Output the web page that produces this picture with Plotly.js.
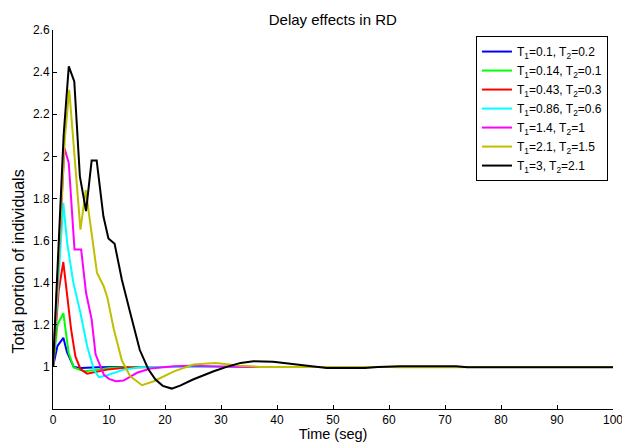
<!DOCTYPE html>
<html>
<head>
<meta charset="utf-8">
<script src="https://cdn.plot.ly/plotly-3.0.1.min.js"></script>
<style>html,body{margin:0;padding:0;background:#fff;}#plot{width:622px;height:442px;}</style>
</head>
<body>
<div id="plot"></div>
<script>
// Series names
const names = [
  "T<sub>1</sub>=0.1, T<sub>2</sub>=0.2",
  "T<sub>1</sub>=0.14, T<sub>2</sub>=0.1",
  "T<sub>1</sub>=0.43, T<sub>2</sub>=0.3",
  "T<sub>1</sub>=0.86, T<sub>2</sub>=0.6",
  "T<sub>1</sub>=1.4, T<sub>2</sub>=1",
  "T<sub>1</sub>=2.1, T<sub>2</sub>=1.5",
  "T<sub>1</sub>=3, T<sub>2</sub>=2.1"
];
const colors = ["#0000ff", "#00ff00", "#ff0000", "#00ffff", "#ff00ff", "#bfbf00", "#000000"];

// Time samples and values
const tBlue = [0, 0.8, 1.85, 2.5, 3.7, 5, 8, 12, 100];
const vBlue = [1, 1.1, 1.138, 1.07, 1.0, 0.995, 0.998, 1.0, 1.0];

const tGreen = [0, 0.8, 1.85, 2.8, 3.7, 5.5, 7.3, 10, 14, 100];
const vGreen = [1, 1.2, 1.255, 1.066, 0.997, 0.979, 0.984, 0.995, 1.0, 1.0];

const tRed = [0, 1, 1.84, 2.23, 3.24, 4, 4.9, 6.1, 7.9, 9.7, 13.3, 18, 100];
const vRed = [1, 1.36, 1.498, 1.415, 1.177, 1.05, 0.99, 0.968, 0.978, 0.987, 0.997, 1.0, 1.0];

const tCyan = [0, 1, 1.84, 2.53, 3.6, 4.9, 6.1, 7.3, 8.2, 9.7, 12.6, 15.6, 20, 100];
const vCyan = [1, 1.45, 1.779, 1.589, 1.405, 1.256, 1.098, 0.987, 0.951, 0.96, 0.987, 0.998, 1.0, 1.0];

const tMagenta = [0, 1, 2.05, 2.82, 3.84, 5.03, 5.9, 6.9, 7.6, 9.1, 10, 11.2, 12.6, 15, 17.4, 21.6, 24.6, 30, 35, 100];
const vMagenta = [1, 1.5, 2.04, 1.968, 1.557, 1.557, 1.352, 1.226, 1.06, 0.962, 0.943, 0.932, 0.935, 0.972, 0.992, 1.003, 1.006, 1.002, 1.0, 1.0];

const tYellow = [0, 1, 2.1, 2.9, 4.9, 5.85, 7.85, 9.05, 9.7, 10.85, 12.3, 13.8, 15.9, 18, 21.6, 25.1, 29, 33.5, 37, 60, 62, 73, 74, 100];
const vYellow = [1, 1.5, 2.08, 2.316, 1.652, 1.84, 1.447, 1.383, 1.33, 1.18, 1.03, 0.955, 0.913, 0.932, 0.979, 1.011, 1.019, 1.006, 1.0, 1.0, 0.998, 0.998, 1.0, 1.0];

const tBlack = [0, 1, 1.9, 2.82, 3.8, 4.8, 5.9, 6.9, 7.8, 9, 9.9, 11, 12.3, 13.8, 14.7, 15.5, 17, 18.3, 19.6, 21.2, 22.7, 25, 28.7, 31, 33.5, 35.8, 39.3, 42.4, 46.5, 48.9, 55.7, 58, 62, 72, 74, 100];
const vBlack = [1, 1.55, 2.1, 2.427, 2.356, 1.905, 1.74, 1.98, 1.98, 1.715, 1.61, 1.585, 1.414, 1.256, 1.16, 1.08, 0.99, 0.94, 0.91, 0.897, 0.911, 0.94, 0.979, 1.0, 1.019, 1.027, 1.024, 1.014, 1.0, 0.995, 0.995, 1.0, 1.003, 1.003, 0.998, 0.998];

const xTicks = [0, 10, 20, 30, 40, 50, 60, 70, 80, 90, 100];
const yTicks = [1, 1.2, 1.4, 1.6, 1.8, 2, 2.2, 2.4, 2.6];
const yTickLabels = ["1", "1.2", "1.4", "1.6", "1.8", "2", "2.2", "2.4", "2.6"];

const xs = [tBlue, tGreen, tRed, tCyan, tMagenta, tYellow, tBlack];
const ys = [vBlue, vGreen, vRed, vCyan, vMagenta, vYellow, vBlack];

const traces = xs.map((x, i) => ({
  x: x, y: ys[i], type: "scatter", mode: "lines", name: names[i],
  line: {color: colors[i], width: 2}
}));

const fontFam = "Liberation Sans, Arial, Helvetica, sans-serif";

const layout = {
  width: 622, height: 442,
  margin: {l: 53, r: 9, t: 30, b: 33, pad: 0},
  paper_bgcolor: "#ffffff", plot_bgcolor: "#ffffff",
  font: {family: fontFam, size: 12, color: "#000"},
  title: {text: "Delay effects in RD", font: {size: 15, family: fontFam, color: "#000"}, x: 0.535, xanchor: "center", y: 0.955, yanchor: "middle"},
  xaxis: {
    range: [0, 100], tickvals: xTicks, ticktext: xTicks.map(String),
    showgrid: false, zeroline: false, showline: true, linecolor: "#000", linewidth: 1,
    ticks: "inside", ticklen: 4, tickcolor: "#000", tickfont: {size: 12},
    ticklabeloverflow: "allow",
    title: {text: "Time (seg)", font: {size: 14.5}, standoff: 1}, automargin: false
  },
  yaxis: {
    range: [0.8, 2.6], tickvals: yTicks, ticktext: yTickLabels,
    showgrid: false, zeroline: false, showline: true, linecolor: "#000", linewidth: 1,
    ticks: "inside", ticklen: 4, tickcolor: "#000", tickfont: {size: 12},
    ticklabeloverflow: "allow",
    automargin: false
  },
  annotations: [{
    text: "Total portion of individuals", textangle: -90, showarrow: false,
    xref: "paper", yref: "paper", x: -0.062, y: 0.39, xanchor: "center", yanchor: "middle",
    font: {size: 16, family: fontFam, color: "#000"}
  }],
  legend: {
    x: 0.991, xanchor: "right", y: 0.984, yanchor: "top",
    bgcolor: "#ffffff", bordercolor: "#000", borderwidth: 1,
    font: {size: 12}, itemwidth: 30, tracegroupgap: 0
  },
  showlegend: true
};

Plotly.newPlot("plot", traces, layout, {staticPlot: true, displayModeBar: false});
</script>
</body>
</html>
